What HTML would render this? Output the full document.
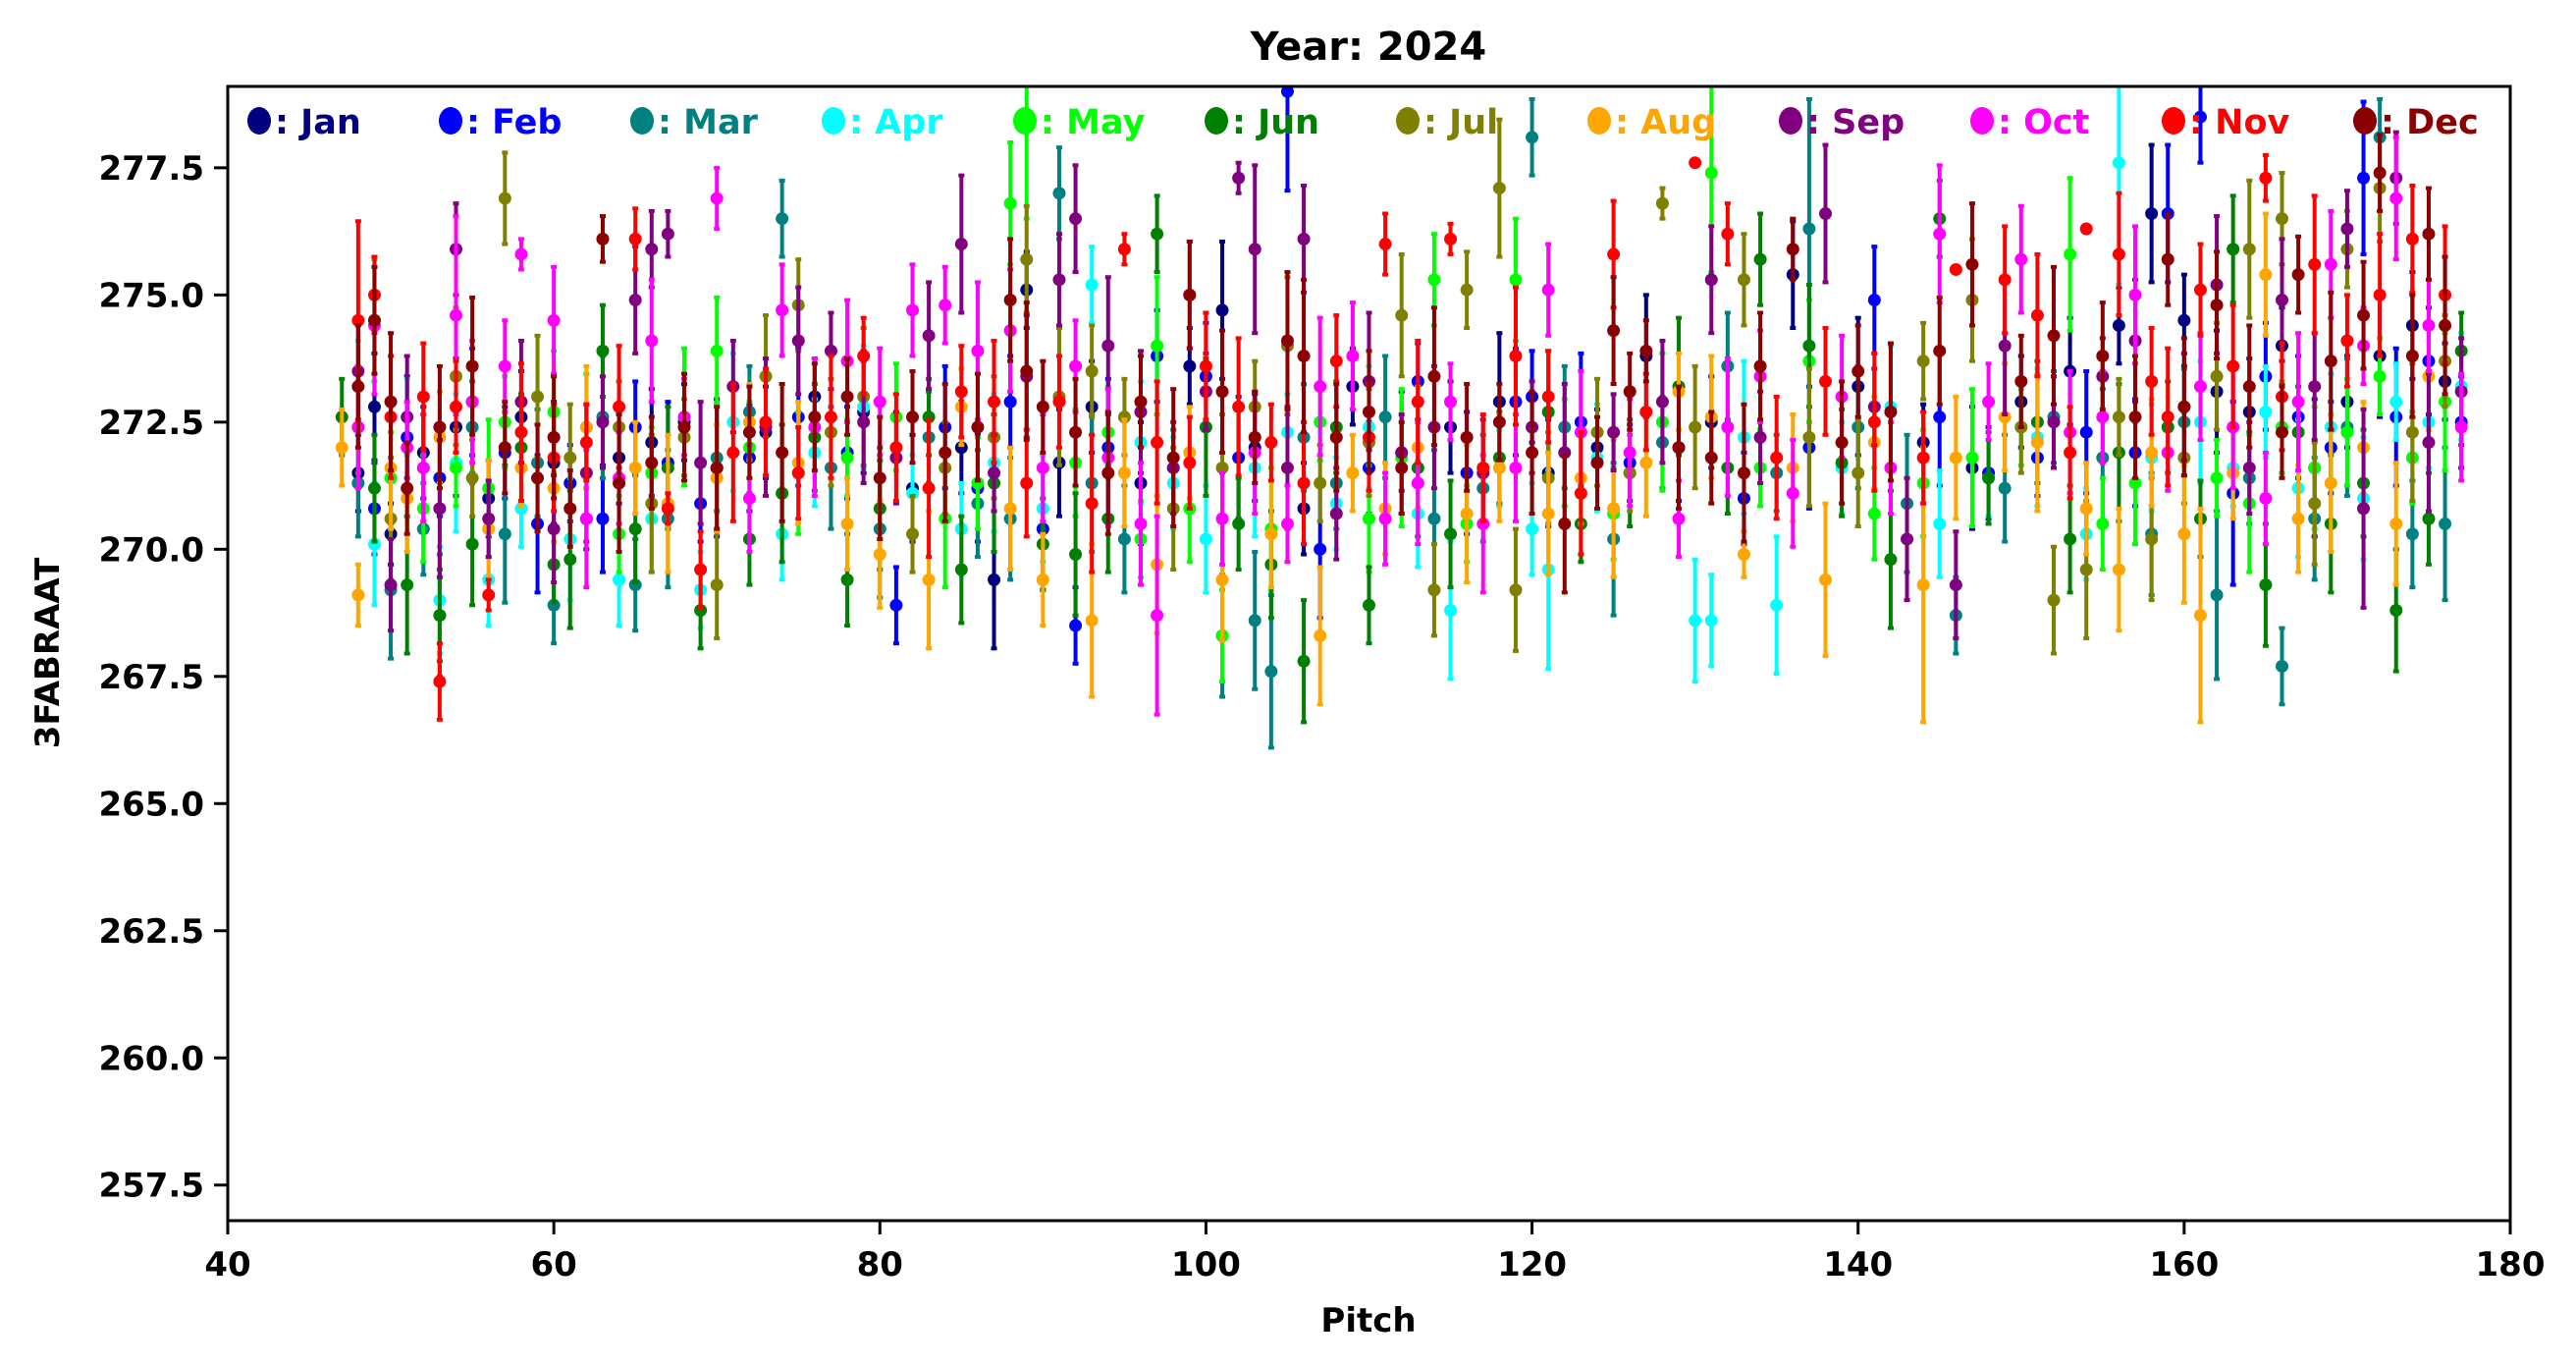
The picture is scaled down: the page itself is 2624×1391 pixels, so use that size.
<!DOCTYPE html>
<html><head><meta charset="utf-8"><title>Year: 2024</title>
<style>
html,body{margin:0;padding:0;background:#fff;}
svg{display:block;font-family:"DejaVu Sans","Liberation Sans",sans-serif;font-weight:bold;}
</style></head>
<body>
<svg id="chart" width="2624" height="1391" viewBox="0 0 2624 1391" xmlns="http://www.w3.org/2000/svg">
<rect x="0" y="0" width="2624" height="1391" fill="#fff"/>
<text x="1394" y="61" font-size="40" text-anchor="middle">Year: 2024</text>
<g id="plot"></g>
<g id="axes"></g>
<g id="legend"></g>
<text x="1394" y="1356" font-size="34" text-anchor="middle">Pitch</text>
<text x="60" y="665" font-size="34" text-anchor="middle" transform="rotate(-90 60 665)">3FABRAAT</text>
</svg>
<script>
const months = ["Jan","Feb","Mar","Apr","May","Jun","Jul","Aug","Sep","Oct","Nov","Dec"];
const xTicks = [40,60,80,100,120,140,160,180];
const yTicks = [257.5,260.0,262.5,265.0,267.5,270.0,272.5,275.0,277.5];
const yTickLabels = ["257.5","260.0","262.5","265.0","267.5","270.0","272.5","275.0","277.5"];

const janX = [48,49,50,52,54,56,58,60,62,64,66,68,70,73,76,79,82,85,87,89,91,93,96,99,101,103,106,109,112,115,118,121,124,127,131,136,140,144,147,150,153,156,158,160,162,164,166,168,170,172,174,176];
const janY = [271.5,272.8,270.3,271.9,272.4,271.0,272.6,271.7,270.6,271.8,272.1,272.5,271.6,272.3,273.0,272.7,271.2,272.0,269.4,275.1,271.7,272.8,271.3,273.6,274.7,272.0,270.8,273.2,271.9,272.4,272.9,271.5,272.0,273.8,272.5,275.4,273.2,272.1,271.6,272.9,273.5,274.4,276.6,274.5,273.1,272.7,274.0,271.6,272.9,273.8,274.4,273.3];
const janE = [0.5,0.7,0.4,0.6,0.9,0.5,0.6,0.8,0.4,0.6,0.7,0.5,0.9,0.6,0.5,0.8,0.7,0.6,0.9,0.5,0.7,0.6,0.8,0.5,0.9,0.7,0.6,0.5,0.8,0.6,0.9,0.7,0.5,0.8,0.6,0.7,0.9,0.5,0.8,0.6,0.7,0.5,0.9,0.6,0.8,0.7,0.5,0.9,0.6,0.8,0.7,0.5];

const febX = [49,51,53,55,57,59,61,63,65,67,69,72,75,78,81,84,86,88,90,92,94,97,100,102,105,107,110,113,116,119,120,123,126,129,133,137,141,145,148,151,154,157,159,161,163,165,167,169,171,173,175,177];
const febY = [270.8,272.2,271.4,272.9,271.9,270.5,271.3,270.6,272.4,271.7,270.9,271.8,272.6,271.9,268.9,272.4,271.2,272.9,270.4,268.5,272.0,273.8,273.4,271.8,279.0,270.0,271.6,273.3,271.5,272.9,273.0,272.5,271.7,272.0,271.0,272.0,274.9,272.6,271.5,271.8,272.3,271.9,276.6,278.5,271.1,273.4,272.6,272.0,277.3,272.6,273.7,272.5];
const febE = [0.6,0.8,0.5,0.7,0.6,0.9,0.5,0.7,0.6,0.8,0.5,0.7,0.9,0.6,0.5,0.8,0.7,0.6,0.8,0.5,0.9,0.6,0.7,0.8,1.3,0.9,0.6,0.5,0.8,0.7,0.6,0.9,0.5,0.7,0.6,0.8,0.7,0.9,0.6,0.5,0.8,0.7,0.9,0.6,1.2,0.7,0.8,0.6,1.0,0.9,0.7,0.6];

const marX = [48,50,52,53,55,57,59,60,63,65,67,70,72,74,77,80,83,86,88,91,93,95,98,101,103,104,106,108,111,114,117,120,122,125,128,132,135,137,140,143,146,149,152,155,158,160,162,164,166,168,170,172,174,176];
const marY = [271.3,269.2,270.4,268.7,272.4,270.3,271.7,268.9,272.6,269.3,270.6,271.8,272.7,276.5,271.6,270.4,272.2,270.9,270.6,277.0,271.3,270.2,271.6,268.3,268.6,267.6,272.2,271.3,272.6,270.6,271.2,278.1,272.4,270.2,272.1,273.6,271.5,276.3,272.4,270.9,268.7,271.2,272.6,271.8,270.3,272.5,269.1,271.4,267.7,270.6,272.4,278.1,270.3,270.5];
const marE = [0.7,0.9,0.6,0.8,0.6,0.9,0.7,0.5,0.8,0.6,0.9,0.7,0.6,0.5,0.8,0.9,0.6,0.7,0.8,0.6,0.9,0.7,0.5,0.8,0.9,1.0,0.7,0.6,0.8,0.9,0.7,0.5,0.8,1.0,0.6,0.7,0.5,1.7,0.8,0.9,0.5,0.7,0.6,0.9,0.8,0.7,1.1,0.6,0.5,0.8,0.9,0.5,0.7,1.0];

const aprX = [48,49,51,53,54,56,58,61,64,66,69,71,74,76,79,82,85,87,90,93,96,98,100,103,105,108,110,113,115,118,120,121,124,127,130,131,133,135,139,142,145,148,151,154,156,158,161,163,165,167,169,171,173,175,177];
const aprY = [273.2,270.1,272.6,269.0,271.7,269.4,270.8,270.2,269.4,270.6,269.2,272.5,270.3,271.9,272.8,271.1,270.4,271.7,270.8,275.2,272.1,271.3,270.2,271.6,272.3,270.9,272.4,270.7,268.8,271.6,270.4,269.6,271.8,272.7,268.6,268.6,272.2,268.9,271.6,272.8,270.5,271.4,272.2,270.3,277.6,271.8,272.5,271.6,272.7,271.2,272.4,271.0,272.9,272.5,273.2];
const aprE = [0.6,0.8,0.5,0.7,0.9,0.6,0.5,0.8,0.6,0.7,0.5,0.9,0.6,0.7,0.8,0.5,0.6,0.9,0.7,0.5,0.8,0.6,0.7,0.9,0.5,0.6,0.8,0.7,0.9,0.5,0.6,1.3,0.7,0.5,0.8,0.6,1.0,0.9,0.6,0.8,0.7,0.5,0.9,0.6,1.6,0.7,0.8,0.5,0.6,0.9,0.7,0.8,0.5,0.6,0.7];

const mayX = [49,50,52,54,56,57,60,62,64,66,68,70,72,75,78,81,84,86,88,89,92,94,96,97,99,101,104,107,110,112,114,116,119,122,125,128,131,134,137,141,144,147,150,153,155,157,160,162,164,166,168,170,172,174,176];
const mayY = [274.5,271.4,270.8,271.6,271.2,272.5,272.7,272.4,270.3,271.5,272.6,273.9,272.0,271.5,271.8,272.6,270.6,271.3,276.8,278.3,271.7,272.3,270.2,274.0,270.8,268.3,270.4,272.5,270.6,271.8,275.3,270.5,275.3,271.9,270.7,272.5,277.4,271.6,273.7,270.7,271.3,271.8,272.4,275.8,270.5,271.3,272.8,271.4,270.9,272.4,271.6,272.3,273.4,271.8,272.9];
const maE = [0.8,0.6,0.7,0.5,0.9,0.6,0.8,0.7,0.5,0.6,0.9,0.7,0.6,0.8,0.5,0.7,0.9,0.6,0.8,1.2,0.7,0.6,0.5,0.9,0.7,0.6,0.8,0.5,0.7,0.9,0.6,0.5,0.8,0.7,0.6,0.9,1.3,0.5,0.8,0.6,0.7,0.9,0.5,1.0,0.6,0.8,0.7,0.5,0.9,0.6,0.8,0.7,0.5,0.6,0.9];

const junX = [47,49,51,53,55,58,60,61,63,65,67,69,72,74,76,78,80,83,85,87,90,92,94,97,100,102,104,106,108,110,113,115,118,121,123,126,129,132,134,137,139,142,145,148,151,153,156,159,161,163,165,167,169,171,173,175,177];
const junY = [272.6,271.2,269.3,268.7,270.1,272.0,269.7,269.8,273.9,270.4,271.6,268.8,270.2,271.1,272.2,269.4,270.8,272.6,269.6,271.3,270.1,269.9,270.6,276.2,272.4,270.5,269.7,267.8,272.4,268.9,271.6,270.3,271.8,272.7,270.5,271.5,273.2,271.6,275.7,274.0,271.7,269.8,276.5,271.4,272.5,270.2,271.9,272.4,270.6,275.9,269.3,272.3,270.5,271.3,268.8,270.6,273.9];
const junE = [0.5,0.7,0.9,0.6,0.8,0.7,0.5,0.9,0.6,0.7,0.8,0.5,0.6,0.9,0.7,0.6,0.8,0.5,0.7,0.9,0.6,0.8,0.7,0.5,0.9,0.6,0.7,0.8,0.6,0.5,0.9,0.7,0.6,0.8,0.5,0.7,0.9,0.6,0.6,0.8,0.7,0.9,0.5,0.6,0.8,0.7,0.9,0.6,0.5,0.7,0.8,0.6,0.9,0.7,0.8,0.6,0.5];

const julX = [48,50,52,54,55,57,59,61,64,66,68,70,73,75,77,79,82,84,87,89,91,93,95,98,101,103,105,107,110,112,114,116,118,119,121,124,126,128,130,133,137,140,144,147,150,152,154,156,158,160,162,164,166,168,170,172,174,176];
const julY = [272.4,270.6,271.6,273.4,271.4,276.9,273.0,271.8,272.4,270.9,272.2,269.3,273.4,274.8,272.3,273.0,270.3,271.6,272.2,275.7,273.0,273.5,272.6,270.8,271.6,272.8,274.0,271.3,272.1,274.6,269.2,275.1,277.1,269.2,271.4,272.3,271.5,276.8,272.4,275.3,272.2,271.5,273.7,274.9,272.4,269.0,269.6,272.6,270.2,271.8,273.4,275.9,276.5,270.9,275.9,277.1,272.3,273.7];
const julE = [0.6,0.8,0.7,0.9,0.5,0.6,0.8,0.7,0.6,0.9,0.5,0.7,0.8,0.6,0.7,0.9,0.5,0.6,0.8,0.7,0.9,0.6,0.5,0.8,0.7,0.6,0.9,0.5,0.7,0.8,0.6,0.5,0.9,0.8,0.6,0.7,0.5,0.2,0.8,0.6,0.9,0.7,0.5,0.8,0.6,0.7,0.9,0.5,0.8,0.6,0.7,0.9,0.6,0.8,0.5,0.7,0.9,0.6];

const augX = [47,48,50,51,53,56,58,60,62,65,67,70,72,75,78,80,83,85,88,90,93,95,97,99,101,104,107,109,111,113,116,118,121,123,125,127,129,131,133,136,138,141,144,146,149,151,154,156,158,160,161,163,165,167,169,171,173,175];
const augY = [272.0,269.1,271.6,271.0,272.2,270.4,271.6,271.2,272.4,271.6,270.9,271.4,272.5,271.7,270.5,269.9,269.4,272.8,270.8,269.4,268.6,271.5,269.7,271.9,269.4,270.3,268.3,271.5,270.8,272.0,270.7,271.6,270.7,271.4,270.8,271.7,273.1,272.6,269.9,271.6,269.4,272.1,269.3,271.8,272.6,272.1,270.8,269.6,271.9,270.3,268.7,271.5,275.4,270.6,271.3,272.0,270.5,273.4];
const augE = [0.5,0.4,0.8,0.7,0.6,0.9,0.5,0.7,0.8,0.6,0.9,0.7,0.5,0.8,0.6,0.7,0.9,0.5,0.8,0.6,1.0,0.7,0.9,0.6,0.8,0.7,0.9,0.5,0.6,0.8,0.9,0.7,0.8,0.6,0.9,0.7,0.5,0.8,0.3,0.7,1.0,0.6,1.8,0.8,0.7,0.9,0.6,0.8,0.7,0.9,1.4,0.6,0.8,0.7,0.9,0.6,0.8,0.7];

const sepX = [48,50,51,53,54,56,58,60,62,63,65,66,67,69,71,73,75,77,79,81,83,85,87,89,91,92,94,96,98,100,102,103,105,106,108,110,112,114,117,120,122,125,128,131,134,138,141,143,146,149,152,155,157,160,162,164,166,168,170,171,173,175,177];
const sepY = [273.5,269.3,272.6,270.8,275.9,270.6,272.9,270.4,271.5,272.5,274.9,275.9,276.2,271.7,273.2,272.4,274.1,273.9,272.5,271.8,274.2,276.0,271.5,273.4,275.3,276.5,274.0,272.7,271.6,273.1,277.3,275.9,271.6,276.1,270.7,273.3,271.9,272.4,271.5,272.4,271.9,272.3,272.9,275.3,272.2,276.6,272.8,270.2,269.3,274.0,272.5,273.4,274.1,272.8,275.2,271.6,274.9,273.2,276.3,270.8,277.3,272.1,273.1];
const sepE = [0.7,0.6,0.8,0.9,0.6,0.5,0.8,0.7,0.9,0.6,0.7,0.5,0.3,0.8,0.6,0.9,0.7,0.5,0.8,0.6,0.7,0.9,0.5,0.8,0.6,0.7,0.9,0.8,0.6,0.5,0.2,1.1,0.8,0.7,0.6,0.9,0.5,0.8,0.7,0.6,0.9,0.5,0.8,0.7,0.6,0.9,0.5,0.8,0.7,0.9,0.6,0.5,0.8,0.7,0.9,0.6,0.8,0.7,0.5,1.3,0.6,0.9,0.7];

const octX = [48,49,51,52,54,55,57,58,60,62,64,66,68,70,72,74,76,78,80,82,84,86,88,90,92,94,96,97,99,101,103,105,107,109,111,113,115,117,119,121,123,126,129,132,134,136,139,142,145,148,150,153,155,157,159,161,163,165,167,169,171,173,175,177];
const octY = [272.4,274.4,272.0,271.6,274.6,272.9,273.6,275.8,274.5,270.6,271.4,274.1,272.6,276.9,271.0,274.7,272.4,273.7,272.9,274.7,274.8,273.9,274.3,271.6,273.6,271.8,270.5,268.7,275.0,270.6,271.9,270.5,273.2,273.8,270.6,271.3,272.9,270.5,271.6,275.1,272.3,271.9,270.6,272.4,273.4,271.1,273.0,271.6,276.2,272.9,275.7,272.3,272.6,275.0,271.9,273.2,272.4,271.0,272.9,275.6,274.0,276.9,274.4,272.4];
const octE = [0.8,0.9,0.6,0.7,1.3,0.8,0.6,0.2,0.7,0.9,0.6,0.8,0.5,0.4,0.7,0.6,0.9,0.8,0.7,0.6,0.5,0.9,0.8,0.7,0.6,0.9,0.8,1.3,0.7,0.6,0.8,0.5,0.9,0.7,0.6,0.8,0.5,0.9,0.7,0.6,0.8,0.7,0.5,0.9,0.6,0.7,0.8,0.6,0.9,0.5,0.7,0.8,0.6,0.9,0.5,0.7,0.8,0.6,0.9,0.7,0.5,0.8,0.6,0.7];

const novX = [48,49,50,52,53,54,56,58,60,62,64,65,67,69,71,73,75,77,79,81,83,85,87,89,91,93,95,97,99,100,102,104,106,108,110,111,113,115,117,119,121,123,125,127,130,132,135,138,141,144,146,149,151,153,154,156,158,159,161,163,165,166,168,170,172,174,176];
const novY = [274.5,275.0,272.6,273.0,267.4,272.8,269.1,272.3,271.8,272.1,272.8,276.1,270.8,269.6,271.9,272.5,271.5,272.6,273.8,272.0,271.2,273.1,272.9,271.3,272.9,270.9,275.9,272.1,271.7,273.6,272.8,272.1,271.3,273.7,272.2,276.0,272.9,276.1,271.6,273.8,273.0,271.1,275.8,272.7,277.6,276.2,271.8,273.3,272.5,271.8,275.5,275.3,274.6,271.9,276.3,275.8,273.3,272.6,275.1,273.6,277.3,273.0,275.6,274.1,275.0,276.1,275.0];
const novE = [1.3,0.5,0.8,0.7,0.5,0.6,0.2,0.9,0.7,0.5,0.8,0.4,0.2,0.5,0.9,0.7,0.6,0.8,0.5,0.7,0.9,0.6,0.8,0.7,0.6,0.9,0.2,0.8,0.6,0.7,0.9,0.5,0.8,0.6,0.7,0.4,0.8,0.2,0.7,0.9,0.6,0.8,0.7,0.5,0.0,0.4,0.8,0.7,0.9,0.6,0.0,0.7,0.8,0.6,0.0,0.8,0.7,0.9,0.6,0.8,0.3,0.7,0.9,0.6,0.8,0.7,0.9];

const decX = [48,49,50,51,53,55,57,59,60,61,63,64,66,68,70,72,74,76,78,80,82,84,86,88,89,90,92,94,96,98,99,101,103,105,106,108,110,112,114,116,118,120,122,124,125,126,127,129,131,133,134,136,139,140,142,145,147,150,152,155,157,159,160,162,164,166,167,169,171,172,174,175,176];
const decY = [273.2,274.5,272.9,271.2,272.4,273.6,272.0,271.4,272.2,270.8,276.1,271.3,271.7,272.4,271.6,272.3,271.9,272.6,273.0,271.4,272.6,271.9,272.4,274.9,273.5,272.8,272.3,271.5,272.9,271.8,275.0,273.1,272.2,274.1,273.8,272.2,272.7,271.6,273.4,272.2,272.5,271.9,270.5,271.7,274.3,273.1,273.9,272.0,271.8,271.5,273.6,275.9,272.1,273.5,272.7,273.9,275.6,273.3,274.2,273.8,272.6,275.7,272.8,274.8,273.2,272.3,275.4,273.7,274.6,277.4,273.8,276.2,274.4];
const decE = [0.8,0.7,0.9,0.6,0.8,0.9,0.6,0.7,0.8,0.5,0.3,0.9,0.6,0.7,0.8,0.6,0.9,0.7,0.5,0.8,0.6,0.9,0.7,0.8,0.9,0.6,0.7,0.8,0.6,0.9,0.7,0.8,0.6,0.9,1.0,0.7,0.8,0.6,0.9,0.7,0.5,0.8,0.9,0.6,0.7,0.5,0.4,0.8,0.6,0.9,0.7,0.4,0.8,0.6,0.9,0.7,0.8,0.6,0.9,0.7,0.8,0.6,0.9,0.7,0.8,0.6,0.5,0.9,0.7,0.5,0.8,0.6,0.9];

const colors = ["#000080","#0000ff","#008080","#00ffff","#00ff00","#008000","#808000","#ffa500","#800080","#ff00ff","#ff0000","#8b0000"];
const seriesX = [janX,febX,marX,aprX,mayX,junX,julX,augX,sepX,octX,novX,decX];
const seriesY = [janY,febY,marY,aprY,mayY,junY,julY,augY,sepY,octY,novY,decY];
const seriesE = [janE,febE,marE,aprE,maE,junE,julE,augE,sepE,octE,novE,decE];

const NS = "http://www.w3.org/2000/svg";
const L = 232, R = 2557, T = 88, B = 1243;
const xMin = 40, xMax = 180, yMin = 256.8, yMax = 279.1;
const errScale = 1.5;
function xs(v){ return L + (v - xMin) / (xMax - xMin) * (R - L); }
function ys(v){ return B - (v - yMin) / (yMax - yMin) * (B - T); }
function mk(tag, attrs, parent){ const e = document.createElementNS(NS, tag); for (const k in attrs) e.setAttribute(k, attrs[k]); parent.appendChild(e); return e; }

const plot = document.getElementById('plot');
const clip = mk('clipPath', {id:'clipA'}, plot);
mk('rect', {x:L, y:T, width:R-L, height:B-T}, clip);
const inner = mk('g', {'clip-path':'url(#clipA)'}, plot);
for (let s = 0; s < 12; s++) {
  const g = mk('g', {}, inner);
  
  
  const X = seriesX[s], Y = seriesY[s], E = seriesE[s];
  const n = Math.min(X.length, Y.length, E.length);
  for (let i = 0; i < n; i++) {
    const e = E[i] * errScale;
    const cx = xs(X[i]), y0 = ys(Y[i] - e), y1 = ys(Y[i] + e), cy = ys(Y[i]);
    if (e > 0) {
      const ln = mk('line', {x1:cx, x2:cx, y1:y0, y2:y1, stroke:colors[s], 'stroke-width':4}, g);
      
      
      mk('line', {x1:cx-3, x2:cx+3, y1:y0, y2:y0, stroke:colors[s], 'stroke-width':4}, g);
      mk('line', {x1:cx-3, x2:cx+3, y1:y1, y2:y1, stroke:colors[s], 'stroke-width':4}, g);
    }
    const c = mk('circle', {cx:cx, cy:cy, r:6.5, fill:colors[s]}, g);
    
    
  }
}

const axes = document.getElementById('axes');
const frame = mk('rect', {x:L, y:T, width:R-L, height:B-T, fill:'none', stroke:'#000', 'stroke-width':3}, axes);


xTicks.forEach(function(v){
  const x = xs(v);
  mk('line', {x1:x, x2:x, y1:B, y2:B+14, stroke:'#000', 'stroke-width':3}, axes);
  const t = mk('text', {x:x, y:B+56, 'font-size':34, 'text-anchor':'middle'}, axes);
  t.textContent = String(v);
  
  
});
yTicks.forEach(function(v, i){
  const y = ys(v);
  mk('line', {x1:L-14, x2:L, y1:y, y2:y, stroke:'#000', 'stroke-width':3}, axes);
  const t = mk('text', {x:L-24, y:y+12, 'font-size':34, 'text-anchor':'end'}, axes);
  t.textContent = yTickLabels[i];
  
  
});

const legend = document.getElementById('legend');
months.forEach(function(m, i){
  const x0 = 264 + i * 195;
  const g = mk('g', {}, legend);
  
  
  mk('ellipse', {cx:x0, cy:123, rx:12, ry:14, fill:colors[i]}, g);
  const t = mk('text', {x:x0+16, y:136, 'font-size':35, fill:colors[i]}, g);
  t.textContent = ': ' + m;
});
</script>
</body></html>
